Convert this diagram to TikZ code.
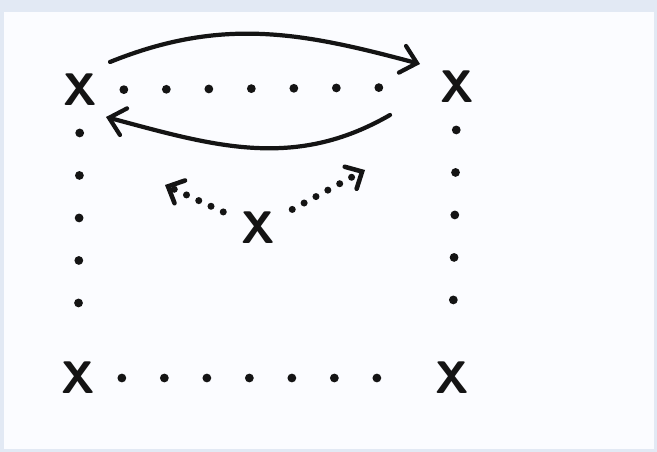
\documentclass[tikz,border=0pt]{standalone}
\usepackage{tikz}
\usetikzlibrary{arrows.meta, calc}
\definecolor{skpaper}{RGB}{251,252,255}
\definecolor{skedge}{RGB}{226,233,244}
\definecolor{skink}{RGB}{20,20,20}
\tikzset{
  cross/.style    = {text=skink, font=\sffamily\bfseries\fontsize{26}{26}\selectfont, inner sep=1pt},
  dotline/.style  = {draw=skink, line width=5pt, line cap=round,
                     dash pattern=on 0pt off 0.85cm, shorten >=0.5cm, shorten <=0.5cm},
  dotarrow/.style = {draw=skink, line width=4pt, line cap=round,
                     dash pattern=on 0pt off 0.27cm, shorten <=0.35cm,
                     -{Straight Barb[length=2.6mm, width=5mm, line width=2.6pt, line cap=round]}},
  swoop/.style    = {draw=skink, line width=2.4pt, line cap=round,
                     -{Straight Barb[length=3mm, width=5.5mm, line width=2.4pt, line cap=round]}},
}

\begin{document}
\begin{tikzpicture}

% paper
\fill[skedge] (0,0) rectangle (13.14,9.04);
\fill[skpaper] (0.08,0.06) rectangle (13.08,8.8);
\useasboundingbox (0,0) rectangle (13.14,9.04);

% ---------- Marks ----------
\node[cross] (tl)  at (1.60,7.24) {X};
\node[cross] (tr)  at (9.14,7.30) {X};
\node[cross] (bl)  at (1.56,1.48) {X};
\node[cross] (br)  at (9.04,1.48) {X};
\node[cross] (mid) at (5.16,4.48) {X};

% ---------- Dotted sides ----------
\draw[dotline] (tl) -- (tr);
\draw[dotline] (tl) -- (bl);
\draw[dotline] (bl) -- (br);
\draw[dotline] (tr) -- (br);

% ---------- Dotted arrows ----------
\coordinate (upleft)  at (3.30,5.34);
\coordinate (upright) at (7.30,5.64);
\draw[dotarrow] (mid) -- (upleft);
\draw[dotarrow] (mid) -- (upright);

% ---------- Swoops ----------
\coordinate (tlhi) at (2.20,7.80);
\coordinate (trhi) at (8.40,7.76);
\coordinate (trlo) at (7.80,6.74);
\coordinate (tllo) at (2.12,6.70);
\draw[swoop] (tlhi) to[out=22,in=165] (trhi);
\draw[swoop] (trlo) to[out=-150,in=-15] (tllo);

\end{tikzpicture}
\end{document}
